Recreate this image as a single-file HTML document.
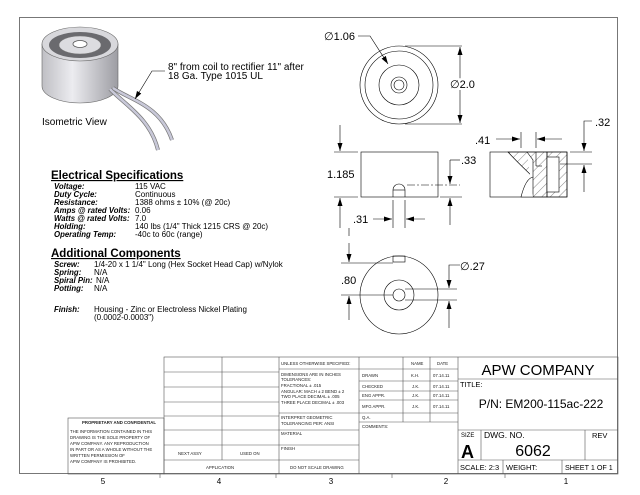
<!DOCTYPE html>
<html><head><meta charset="utf-8"><style>
html,body{margin:0;padding:0;background:#fff;}
svg{display:block;font-family:"Liberation Sans",sans-serif;}
</style></head><body>
<svg width="640" height="495" viewBox="0 0 640 495" xmlns="http://www.w3.org/2000/svg">
<defs>
<linearGradient id="cyl" x1="0" x2="1" y1="0" y2="0">
<stop offset="0" stop-color="#bfbfc4"/><stop offset="0.4" stop-color="#ececf0"/><stop offset="1" stop-color="#9d9da3"/>
</linearGradient>
<pattern id="hatch" width="6" height="6" patternUnits="userSpaceOnUse" patternTransform="rotate(45)">
<line x1="0" y1="0" x2="0" y2="6" stroke="#333" stroke-width="0.6"/>
</pattern>
<marker id="ar" markerWidth="8" markerHeight="6" refX="8" refY="3" orient="auto" markerUnits="userSpaceOnUse"><path d="M0,0.5 L8,3 L0,5.5z" fill="#000"/></marker>
</defs>
<!-- frame -->
<rect x="19.5" y="17.5" width="598" height="456" fill="none" stroke="#777" stroke-width="1"/>

<!-- isometric -->
<path d="M42,44 L42,86 A38,17 0 0 0 118,86 L118,44 Z" fill="url(#cyl)" stroke="#666" stroke-width="0.6"/>
<ellipse cx="80" cy="44" rx="38" ry="17" fill="#d8d8dc" stroke="#666" stroke-width="0.6"/>
<ellipse cx="80" cy="45" rx="31" ry="13" fill="#6a6a6e"/>
<ellipse cx="80" cy="45" rx="21" ry="9" fill="#dcdce0" stroke="#777" stroke-width="0.5"/>
<ellipse cx="80" cy="44" rx="7" ry="3.5" fill="#fff" stroke="#555" stroke-width="0.8"/>
<path d="M110,89 C125,105 150,118 158,150" fill="none" stroke="#777" stroke-width="4"/>
<path d="M110,89 C125,105 150,118 158,150" fill="none" stroke="#c8c8d8" stroke-width="2.6"/>
<path d="M113,88 C130,100 160,105 172,140" fill="none" stroke="#777" stroke-width="4"/>
<path d="M113,88 C130,100 160,105 172,140" fill="none" stroke="#c8c8d8" stroke-width="2.6"/>
<text x="42" y="125" font-size="10">Isometric View</text>
<polyline points="165,71 152,71 135,99" fill="none" stroke="#000" stroke-width="0.6" marker-end="url(#ar)"/>
<text x="168" y="70" font-size="10">8" from coil to rectifier 11" after</text>
<text x="168" y="79" font-size="10">18 Ga. Type 1015 UL</text>

<!-- specs -->
<text x="51" y="179" font-size="11.5" font-weight="bold" text-decoration="underline">Electrical Specifications</text>
<g font-size="7.8" font-weight="bold" font-style="italic">
<text x="54" y="189">Voltage:</text><text x="54" y="197">Duty Cycle:</text><text x="54" y="205">Resistance:</text>
<text x="54" y="213">Amps @ rated Volts:</text><text x="54" y="221">Watts @ rated Volts:</text>
<text x="54" y="229">Holding:</text><text x="54" y="237">Operating Temp:</text>
<text x="54" y="267">Screw:</text><text x="54" y="275">Spring:</text><text x="54" y="283">Spiral Pin:</text><text x="54" y="291">Potting:</text>
<text x="54" y="312">Finish:</text>
</g>
<g font-size="8">
<text x="135" y="189">115 VAC</text><text x="135" y="197">Continuous</text><text x="135" y="205">1388 ohms ± 10% (@ 20c)</text>
<text x="135" y="213">0.06</text><text x="135" y="221">7.0</text><text x="135" y="229">140 lbs (1/4" Thick 1215 CRS @ 20c)</text>
<text x="135" y="237">-40c to 60c (range)</text>
<text x="94" y="267">1/4-20 x 1 1/4" Long (Hex Socket Head Cap) w/Nylok</text>
<text x="94" y="275">N/A</text><text x="96" y="283">N/A</text><text x="94" y="291">N/A</text>
<text x="94" y="312">Housing - Zinc or Electroless Nickel Plating</text>
<text x="94" y="320">(0.0002-0.0003")</text>
</g>
<text x="51" y="257" font-size="11.5" font-weight="bold" text-decoration="underline">Additional Components</text>

<!-- top view -->
<g fill="none" stroke="#000" stroke-width="0.6">
<circle cx="399" cy="85" r="39"/><circle cx="399" cy="85" r="34"/><circle cx="399" cy="85" r="20"/>
<circle cx="399" cy="85" r="8"/><circle cx="399" cy="85" r="5"/>
<line x1="405" y1="46" x2="462" y2="46"/><line x1="405" y1="124" x2="462" y2="124"/>
<line x1="460" y1="85" x2="460" y2="47" marker-end="url(#ar)"/><line x1="460" y1="85" x2="460" y2="123" marker-end="url(#ar)"/>
<polyline points="358,36 370,36 388,64" marker-end="url(#ar)"/>
</g>
<text x="324" y="40" font-size="11">∅1.06</text>
<text x="450" y="88" font-size="11" fill="#000" style="paint-order:stroke" stroke="#fff" stroke-width="4">∅2.0</text>

<!-- front view -->
<g fill="none" stroke="#000" stroke-width="0.6">
<rect x="361" y="152" width="77" height="45"/>
<path d="M393,197 L393,190 A6,6 0 0 1 405,190 L405,197" />
<line x1="393" y1="190" x2="405" y2="190"/>
<line x1="407" y1="185" x2="460" y2="185" stroke-dasharray="8,2,2,2"/>
<line x1="334" y1="152" x2="358" y2="152"/><line x1="334" y1="197" x2="358" y2="197"/>
<line x1="340" y1="125" x2="340" y2="151" marker-end="url(#ar)"/><line x1="340" y1="228" x2="340" y2="198" marker-end="url(#ar)"/>
<line x1="440" y1="197" x2="462" y2="197"/>
<line x1="450" y1="160" x2="450" y2="184" marker-end="url(#ar)"/><line x1="450" y1="225" x2="450" y2="198" marker-end="url(#ar)"/>
<polyline points="460,160 450,160"/>
<line x1="393" y1="200" x2="393" y2="228"/><line x1="405" y1="200" x2="405" y2="228"/>
<line x1="373" y1="219" x2="392" y2="219" marker-end="url(#ar)"/><line x1="425" y1="219" x2="406" y2="219" marker-end="url(#ar)"/>
<line x1="349" y1="228" x2="349" y2="236"/>
</g>
<text x="327" y="178" font-size="11">1.185</text>
<text x="461" y="164" font-size="11">.33</text>
<text x="353" y="223" font-size="11">.31</text>

<!-- section view -->
<g stroke="#000" stroke-width="0.6">
<rect x="490" y="152" width="77" height="45" fill="none"/>
<path d="M527,152 L547,152 L547,197 L533,197 L533,177 C528,172 520,165 508,152 Z" fill="url(#hatch)"/>
<path d="M547,152 L567,152 L567,197 L547,197 Z" fill="url(#hatch)"/>
<rect x="547" y="157" width="12" height="35" fill="#fff"/>
<path d="M527,152 L533,160 L533,177 C528,178 524,185 521,197 L533,197" fill="#fff"/>
<line x1="536" y1="152" x2="536" y2="166" /><line x1="536" y1="166" x2="542" y2="166"/>
</g>
<g fill="none" stroke="#000" stroke-width="0.6">
<line x1="521" y1="132" x2="521" y2="148"/><line x1="536" y1="132" x2="536" y2="148"/>
<line x1="496" y1="139" x2="520" y2="139" marker-end="url(#ar)"/><line x1="562" y1="139" x2="537" y2="139" marker-end="url(#ar)"/>
<line x1="570" y1="152" x2="592" y2="152"/><line x1="560" y1="164" x2="592" y2="164"/>
<polyline points="592,121 584,121 584,151" marker-end="url(#ar)"/>
<line x1="584" y1="192" x2="584" y2="165" marker-end="url(#ar)"/>
</g>
<text x="475" y="144" font-size="11">.41</text>
<text x="595" y="126" font-size="11">.32</text>

<!-- bottom view -->
<g fill="none" stroke="#000" stroke-width="0.6">
<circle cx="399" cy="295" r="39"/><circle cx="399" cy="295" r="15"/><circle cx="399" cy="295" r="6"/>
<rect x="393" y="256" width="12" height="6"/>
<line x1="341" y1="263" x2="393" y2="263"/><line x1="341" y1="295" x2="393" y2="295"/>
<line x1="349" y1="243" x2="349" y2="262" marker-end="url(#ar)"/><line x1="349" y1="320" x2="349" y2="296" marker-end="url(#ar)"/>
<line x1="405" y1="289" x2="457" y2="289"/><line x1="405" y1="300" x2="457" y2="300"/>
<polyline points="460,265 449,265 449,288" marker-end="url(#ar)"/>
<line x1="449" y1="328" x2="449" y2="301" marker-end="url(#ar)"/>
</g>
<text x="341" y="284" font-size="11">.80</text>
<text x="460" y="270" font-size="11">∅.27</text>

<!-- title block -->
<g fill="none" stroke="#555" stroke-width="0.6">
<rect x="68" y="418" width="96" height="56"/>
<rect x="164" y="357" width="454" height="117"/>
<line x1="222" y1="357" x2="222" y2="460"/>
<line x1="279" y1="357" x2="279" y2="474"/>
<line x1="359" y1="357" x2="359" y2="474"/>
<line x1="458" y1="357" x2="458" y2="474"/>
<line x1="164" y1="372" x2="279" y2="372"/><line x1="164" y1="387" x2="279" y2="387"/>
<line x1="164" y1="402" x2="279" y2="402"/><line x1="164" y1="416" x2="279" y2="416"/>
<line x1="164" y1="430" x2="279" y2="430"/><line x1="164" y1="445" x2="279" y2="445"/>
<line x1="164" y1="460" x2="359" y2="460"/>
<line x1="279" y1="369" x2="359" y2="369"/><line x1="279" y1="413" x2="359" y2="413"/>
<line x1="279" y1="430" x2="359" y2="430"/><line x1="279" y1="445" x2="359" y2="445"/>
<line x1="359" y1="369" x2="458" y2="369"/><line x1="359" y1="381" x2="458" y2="381"/>
<line x1="359" y1="391" x2="458" y2="391"/><line x1="359" y1="400" x2="458" y2="400"/>
<line x1="359" y1="413" x2="458" y2="413"/><line x1="359" y1="422" x2="458" y2="422"/>
<line x1="403" y1="357" x2="403" y2="422"/><line x1="430" y1="357" x2="430" y2="422"/>
<line x1="458" y1="379" x2="618" y2="379"/><line x1="458" y1="430" x2="618" y2="430"/>
<line x1="458" y1="460" x2="618" y2="460"/>
<line x1="481" y1="430" x2="481" y2="460"/><line x1="585" y1="430" x2="585" y2="460"/>
<line x1="503" y1="460" x2="503" y2="474"/><line x1="562" y1="460" x2="562" y2="474"/>
<line x1="160" y1="474" x2="160" y2="478"/><line x1="276" y1="474" x2="276" y2="478"/>
<line x1="392" y1="474" x2="392" y2="478"/><line x1="505" y1="474" x2="505" y2="478"/>
</g>
<g font-size="4.3" fill="#222">
<text x="82" y="424" font-weight="bold">PROPRIETARY AND CONFIDENTIAL</text>
<text x="70" y="433">THE INFORMATION CONTAINED IN THIS</text>
<text x="70" y="439">DRAWING IS THE SOLE PROPERTY OF</text>
<text x="70" y="445">APW COMPANY.  ANY  REPRODUCTION</text>
<text x="70" y="451">IN PART OR AS A WHOLE WITHOUT THE</text>
<text x="70" y="457">WRITTEN PERMISSION OF</text>
<text x="70" y="463">APW COMPANY IS PROHIBITED.</text>
<text x="178" y="455">NEXT ASSY</text><text x="240" y="455">USED ON</text>
<text x="206" y="469">APPLICATION</text>
<text x="290" y="469">DO NOT SCALE DRAWING</text>
<text x="281" y="365">UNLESS OTHERWISE SPECIFIED:</text>
<text x="281" y="376">DIMENSIONS ARE IN INCHES</text>
<text x="281" y="381">TOLERANCES:</text>
<text x="281" y="387">FRACTIONAL ± .015</text>
<text x="281" y="393">ANGULAR: MACH ± 2   BEND ± 2</text>
<text x="281" y="398">TWO PLACE DECIMAL   ± .005</text>
<text x="281" y="404">THREE PLACE DECIMAL  ± .003</text>
<text x="281" y="419">INTERPRET GEOMETRIC</text>
<text x="281" y="425">TOLERANCING PER: ANSI</text>
<text x="281" y="435">MATERIAL</text>
<text x="281" y="450">FINISH</text>
<text x="411" y="365">NAME</text><text x="437" y="365">DATE</text>
<text x="362" y="377">DRAWN</text><text x="411" y="377">K.H.</text><text x="433" y="377">07.14.11</text>
<text x="362" y="388">CHECKED</text><text x="412" y="388">J.K.</text><text x="433" y="388">07.14.11</text>
<text x="362" y="397">ENG APPR.</text><text x="412" y="397">J.K.</text><text x="433" y="397">07.14.11</text>
<text x="362" y="408">MFG APPR.</text><text x="412" y="408">J.K.</text><text x="433" y="408">07.14.11</text>
<text x="362" y="419">Q.A.</text>
<text x="362" y="428">COMMENTS:</text>
</g>
<text x="538" y="375" font-size="15" text-anchor="middle">APW COMPANY</text>
<text x="460" y="387" font-size="7.5">TITLE:</text>
<text x="541" y="408" font-size="12" text-anchor="middle">P/N: EM200-115ac-222</text>
<text x="461" y="437" font-size="6">SIZE</text>
<text x="461" y="458" font-size="18" font-weight="bold">A</text>
<text x="484" y="438" font-size="8.5">DWG.  NO.</text>
<text x="533" y="456" font-size="16" text-anchor="middle">6062</text>
<text x="592" y="438" font-size="7.5">REV</text>
<text x="460" y="470" font-size="7.5">SCALE: 2:3</text>
<text x="506" y="470" font-size="7.5">WEIGHT:</text>
<text x="565" y="470" font-size="7.2">SHEET 1 OF 1</text>
<g font-size="8" text-anchor="middle">
<text x="103" y="484">5</text><text x="219" y="484">4</text><text x="331" y="484">3</text>
<text x="446" y="484">2</text><text x="566" y="484">1</text>
</g>
</svg>
</body></html>
